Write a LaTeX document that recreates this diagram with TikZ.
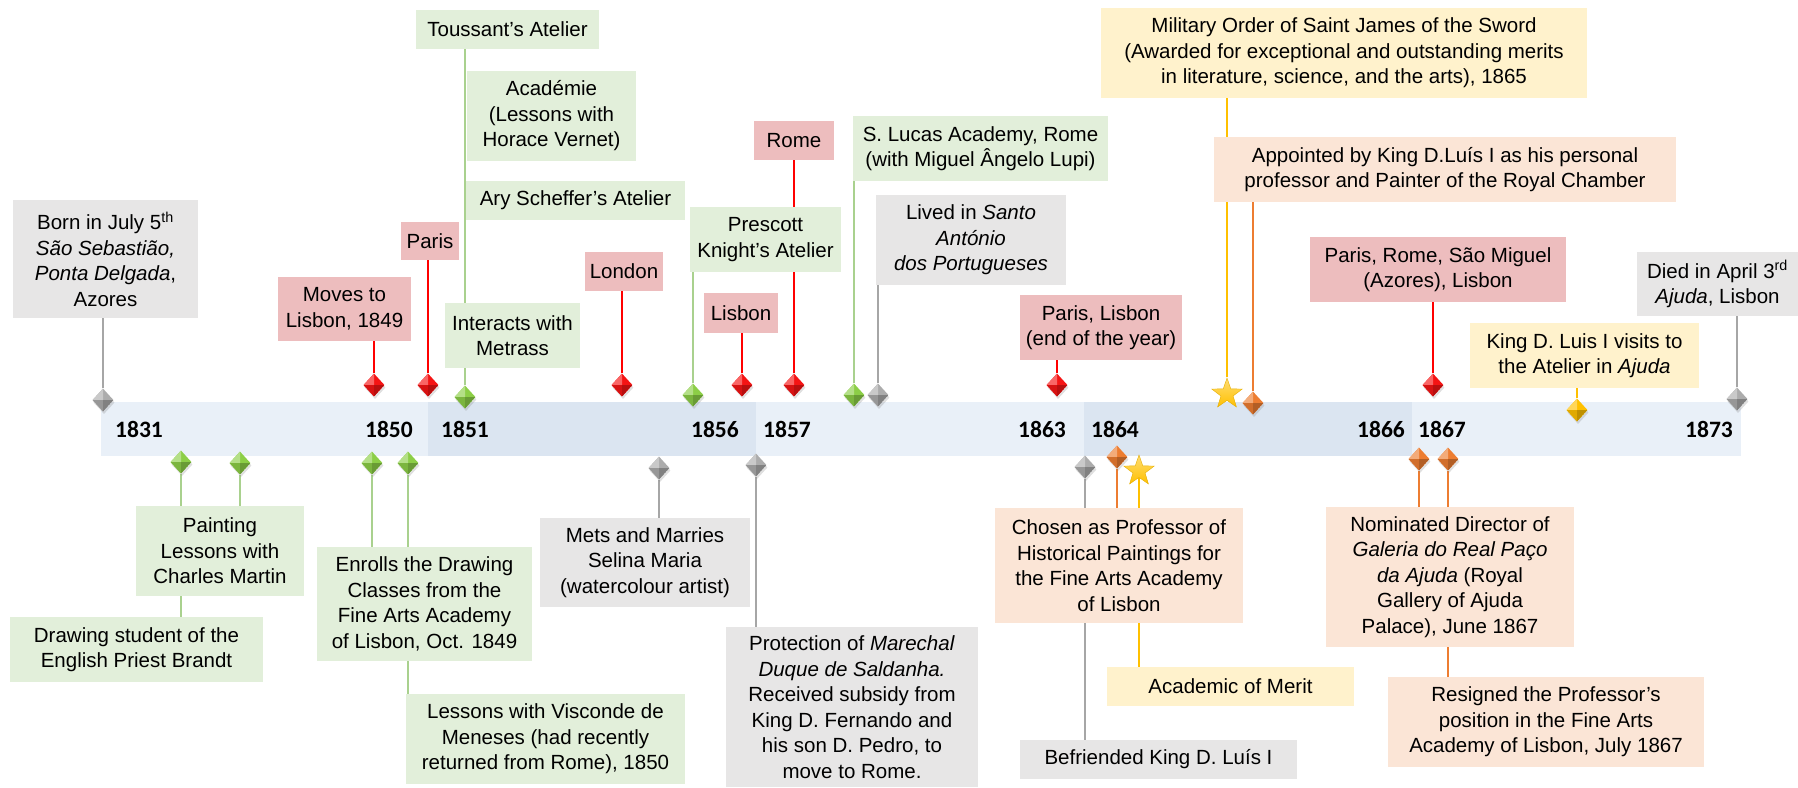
\documentclass[tikz,border=0pt]{standalone}
\usepackage{fontspec}
\setmainfont{Liberation Sans}
\newfontfamily\yearfont{Carlito}
\usepackage{tikz}
\usetikzlibrary{shapes.geometric,shadows,backgrounds}

\definecolor{bandA}{RGB}{233,240,248}
\definecolor{bandB}{RGB}{219,229,241}
\definecolor{grayfill}{RGB}{231,230,230}
\definecolor{redfill}{RGB}{237,189,190}
\definecolor{greenfill}{RGB}{226,239,218}
\definecolor{peachfill}{RGB}{251,229,214}
\definecolor{yellowfill}{RGB}{255,242,204}
\definecolor{grayline}{RGB}{166,166,166}
\definecolor{redline}{RGB}{255,0,0}
\definecolor{greenline}{RGB}{169,209,142}
\definecolor{orangeline}{RGB}{237,125,49}
\definecolor{yellowline}{RGB}{255,192,0}
\definecolor{gemgray}{RGB}{172,172,172}
\definecolor{gemred}{RGB}{245,20,20}
\definecolor{gemgreen}{RGB}{140,206,70}
\definecolor{gemorange}{RGB}{237,125,49}
\definecolor{gemyellow}{RGB}{255,192,0}

\newcommand{\lblfont}{\fontsize{20.5}{25.5}\selectfont}

\tikzset{
	box/.style={inner sep=0pt, align=center, font=\lblfont},
	graybox/.style={box, fill=grayfill},
	redbox/.style={box, fill=redfill},
	greenbox/.style={box, fill=greenfill},
	peachbox/.style={box, fill=peachfill},
	yellowbox/.style={box, fill=yellowfill},
	wh/.style 2 args={minimum width=#1pt, minimum height=#2pt},
	year/.style={inner sep=0pt, font=\yearfont\bfseries\fontsize{23.5}{26}\selectfont},
	grayln/.style={draw=grayline, line width=2pt},
	redln/.style={draw=redline, line width=2pt},
	greenln/.style={draw=greenline, line width=2pt},
	orangeln/.style={draw=orangeline, line width=2pt},
	yellowln/.style={draw=yellowline, line width=2pt},
	gem/.style={diamond, inner sep=0pt, minimum width=21pt, minimum height=23pt, fill=#1,
		drop shadow={opacity=0.25, shadow xshift=1pt, shadow yshift=-2.5pt},
		path picture={
			\fill[#1!65!white] (path picture bounding box.center) -- (path picture bounding box.north) -- (path picture bounding box.west) -- cycle;
			\fill[#1!88!black] (path picture bounding box.center) -- (path picture bounding box.south) -- (path picture bounding box.west) -- cycle;
			\fill[#1!75!black] (path picture bounding box.center) -- (path picture bounding box.south) -- (path picture bounding box.east) -- cycle;
		}},
	starmk/.style={star, star points=5, star point ratio=2.5, minimum size=32pt, inner sep=0pt,
		top color=gemyellow!55!white, bottom color=gemyellow, draw=gemyellow!90!black, line width=0.4pt}
}

\begin{document}
\begin{tikzpicture}[x=1pt, y=-1pt]
	\useasboundingbox (0,0) rectangle (1798,787);

	% time band
	\begin{scope}[on background layer]
		\fill[bandA] (101,402) rectangle (428,456);
		\fill[bandB] (428,402) rectangle (756,456);
		\fill[bandA] (756,402) rectangle (1084,456);
		\fill[bandB] (1084,402) rectangle (1412,456);
		\fill[bandA] (1412,402) rectangle (1741,456);
	\end{scope}

	\node[year, anchor=west] (y1831) at (115,429) {1831};
	\node[year, anchor=east] (y1850) at (413,429) {1850};
	\node[year, anchor=west] (y1851) at (441,429) {1851};
	\node[year, anchor=east] (y1856) at (739,429) {1856};
	\node[year, anchor=west] (y1857) at (763,429) {1857};
	\node[year, anchor=east] (y1863) at (1066,429) {1863};
	\node[year, anchor=west] (y1864) at (1091,429) {1864};
	\node[year, anchor=east] (y1866) at (1405,429) {1866};
	\node[year, anchor=west] (y1867) at (1418,429) {1867};
	\node[year, anchor=east] (y1873) at (1733,429) {1873};

	% boxes above the band
	\node[graybox, wh={185}{118}] (born) at (105.5,259) {Born in July 5\textsuperscript{th}\\ \textit{São Sebastião,}\\ \textit{Ponta Delgada},\\ Azores};
	\node[redbox, wh={133}{64}] (moves) at (344.5,309) {Moves to\\ Lisbon, 1849};
	\node[redbox, wh={58}{38}] (paris) at (430,241) {Paris};
	\node[greenbox, wh={183}{39}] (toussant) at (507.5,29.5) {Toussant’s Atelier};
	\node[greenbox, wh={169}{90}] (academie) at (551.5,116) {Académie\\ (Lessons with\\ Horace Vernet)};
	\node[greenbox, wh={219}{39}] (scheffer) at (575.5,200.5) {Ary Scheffer’s Atelier};
	\node[greenbox, wh={135}{65}] (metrass) at (512.5,335.5) {Interacts with\\ Metrass};
	\node[redbox, wh={78}{39}] (london) at (624,271.5) {London};
	\node[redbox, wh={80}{39}] (rome) at (794,140.5) {Rome};
	\node[greenbox, wh={151}{65}] (prescott) at (765.5,239.5) {Prescott\\ Knight’s Atelier};
	\node[redbox, wh={74}{40}] (lisbon) at (741,313) {Lisbon};
	\node[greenbox, wh={255}{65}] (slucas) at (980.5,148.5) {S. Lucas Academy, Rome\\ (with Miguel Ângelo Lupi)};
	\node[graybox, wh={190}{90}] (santo) at (971,240) {Lived in \textit{Santo}\\ \textit{António}\\ \textit{dos Portugueses}};
	\node[redbox, wh={162}{65}] (parislisbon) at (1101,327.5) {Paris, Lisbon\\ (end of the year)};
	\node[yellowbox, wh={486}{90}] (military) at (1344,53) {Military Order of Saint James of the Sword\\ (Awarded for exceptional and outstanding merits\\ in literature, science, and the arts), 1865};
	\node[peachbox, wh={462}{65}] (appointed) at (1445,169.5) {Appointed by King D.Luís I as his personal\\ professor and Painter of the Royal Chamber};
	\node[redbox, wh={256}{65}] (parisrome) at (1438,269.5) {Paris, Rome, São Miguel\\ (Azores), Lisbon};
	\node[graybox, wh={161}{64}] (died) at (1717.5,284) {Died in April 3\textsuperscript{rd}\\ \textit{Ajuda}, Lisbon};
	\node[yellowbox, wh={229}{65}] (visits) at (1584.5,355.5) {King D. Luis I visits to\\ the Atelier in \textit{Ajuda}};

	% boxes below the band
	\node[greenbox, wh={168}{90}] (painting) at (220,551) {Painting\\ Lessons with\\ Charles Martin};
	\node[greenbox, wh={253}{65}] (drawst) at (136.5,649.5) {Drawing student of the\\ English Priest Brandt};
	\node[greenbox, wh={215}{114}] (enrolls) at (424.5,604) {Enrolls the Drawing\\ Classes from the\\ Fine Arts Academy\\ of Lisbon, Oct. 1849};
	\node[greenbox, wh={279}{90}] (meneses) at (545.5,739) {Lessons with Visconde de\\ Meneses (had recently\\ returned from Rome), 1850};
	\node[graybox, wh={210}{89}] (marries) at (645,562.5) {Mets and Marries\\ Selina Maria\\ (watercolour artist)};
	\node[graybox, wh={252}{160}] (protection) at (852,707) {Protection of \textit{Marechal}\\ \textit{Duque de Saldanha.}\\ Received subsidy from\\ King D. Fernando and\\ his son D. Pedro, to\\ move to Rome.};
	\node[peachbox, wh={248}{115}] (chosen) at (1119,565.5) {Chosen as Professor of\\ Historical Paintings for\\ the Fine Arts Academy\\ of Lisbon};
	\node[yellowbox, wh={247}{39}] (merit) at (1230.5,686.5) {Academic of Merit};
	\node[graybox, wh={277}{39}] (befriended) at (1158.5,759.5) {Befriended King D. Luís I};
	\node[peachbox, wh={248}{140}] (nominated) at (1450,577) {Nominated Director of\\ \textit{Galeria do Real Paço}\\ \textit{da Ajuda} (Royal\\ Gallery of Ajuda\\ Palace), June 1867};
	\node[peachbox, wh={316}{90}] (resigned) at (1546,722) {Resigned the Professor’s\\ position in the Fine Arts\\ Academy of Lisbon, July 1867};

	% markers above
	\node[gem=gemgray] (m1831) at (103,400) {};
	\node[gem=gemred] (mMoves) at (374,385) {};
	\node[gem=gemred] (mParis) at (428,385) {};
	\node[gem=gemgreen] (mTous) at (465,397) {};
	\node[gem=gemred] (mLondon) at (622,385) {};
	\node[gem=gemgreen] (mPresc) at (693,395) {};
	\node[gem=gemred] (mLisbon) at (742,385) {};
	\node[gem=gemred] (mRome) at (794,385) {};
	\node[gem=gemgreen] (mLucas) at (854,395) {};
	\node[gem=gemgray] (mSanto) at (878,395) {};
	\node[gem=gemred] (mParLis) at (1057,385) {};
	\node[starmk] (mMil) at (1227,394) {};
	\node[gem=gemorange] (mAppt) at (1253,403) {};
	\node[gem=gemred] (mParRom) at (1433,385) {};
	\node[gem=gemyellow] (mVisit) at (1577,410) {};
	\node[gem=gemgray] (mDied) at (1737,399) {};

	% markers below
	\node[gem=gemgreen] (mDraw) at (181,462) {};
	\node[gem=gemgreen] (mPaint) at (240,463) {};
	\node[gem=gemgreen] (mEnr) at (372,463) {};
	\node[gem=gemgreen] (mMen) at (408,463) {};
	\node[gem=gemgray] (mMarr) at (659,468) {};
	\node[gem=gemgray] (mProt) at (756,465) {};
	\node[gem=gemgray] (mBef) at (1085,467) {};
	\node[gem=gemorange] (mChos) at (1117,457) {};
	\node[starmk] (mMerit) at (1139,471) {};
	\node[gem=gemorange] (mNom) at (1419,459) {};
	\node[gem=gemorange] (mRes) at (1448,459) {};

	% connectors
	\begin{scope}[on background layer]
		\draw[grayln] (m1831) -- (m1831 |- born.south);
		\draw[redln] (mMoves) -- (mMoves |- moves.south);
		\draw[redln] (mParis) -- (mParis |- paris.south);
		\draw[greenln] (mTous) -- (mTous |- toussant.south);
		\draw[redln] (mLondon) -- (mLondon |- london.south);
		\draw[greenln] (mPresc) -- (mPresc |- prescott.south);
		\draw[redln] (mLisbon) -- (mLisbon |- lisbon.south);
		\draw[redln] (mRome) -- (mRome |- rome.south);
		\draw[greenln] (mLucas) -- (mLucas |- slucas.south);
		\draw[grayln] (mSanto) -- (mSanto |- santo.south);
		\draw[redln] (mParLis) -- (mParLis |- parislisbon.south);
		\draw[yellowln] (mMil) -- (mMil |- military.south);
		\draw[orangeln] (mAppt) -- (mAppt |- appointed.south);
		\draw[redln] (mParRom) -- (mParRom |- parisrome.south);
		\draw[yellowln] (mVisit) -- (mVisit |- visits.south);
		\draw[grayln] (mDied) -- (mDied |- died.south);

		\draw[greenln] (mDraw) -- (mDraw |- painting.north);
		\draw[greenln] (mDraw |- painting.south) -- (mDraw |- drawst.north);
		\draw[greenln] (mPaint) -- (mPaint |- painting.north);
		\draw[greenln] (mEnr) -- (mEnr |- enrolls.north);
		\draw[greenln] (mMen) -- (mMen |- enrolls.north);
		\draw[greenln] (mMen |- enrolls.south) -- (mMen |- meneses.north);
		\draw[grayln] (mMarr) -- (mMarr |- marries.north);
		\draw[grayln] (mProt) -- (mProt |- protection.north);
		\draw[grayln] (mBef) -- (mBef |- befriended.north);
		\draw[orangeln] (mChos) -- (mChos |- chosen.north);
		\draw[yellowln] (mMerit) -- (mMerit |- chosen.north);
		\draw[yellowln] (mMerit |- chosen.south) -- (mMerit |- merit.north);
		\draw[orangeln] (mNom) -- (mNom |- nominated.north);
		\draw[orangeln] (mRes) -- (mRes |- nominated.north);
		\draw[orangeln] (mRes |- nominated.south) -- (mRes |- resigned.north);
	\end{scope}
\end{tikzpicture}
\end{document}
